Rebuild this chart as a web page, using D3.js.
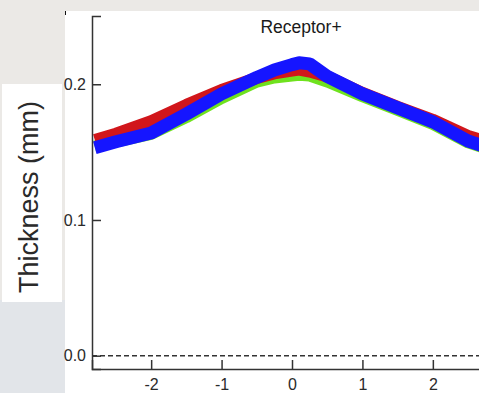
<!DOCTYPE html>
<html>
<head>
<meta charset="utf-8">
<script src="https://cdn.jsdelivr.net/npm/d3@7"></script>
<style>
  html, body { margin: 0; padding: 0; background: #ebe9e6; }
  #chart { width: 479px; height: 393px; }
</style>
</head>
<body>
<div id="chart"></div>
<script>
// positions along the profile (x) and thickness (mm) for each group
const positions = [-2.8, -2.5, -2.0, -1.5, -1.0, -0.5, -0.25, 0, 0.1, 0.25, 0.5, 1.0, 1.5, 2.0, 2.5, 2.8];
const greenVals = [0.1540, 0.1578, 0.1634, 0.1758, 0.1899, 0.2020, 0.2050, 0.2064, 0.2070, 0.2064, 0.2020, 0.1912, 0.1811, 0.1708, 0.1572, 0.1522];
const redVals   = [0.1590, 0.1636, 0.1728, 0.1848, 0.1958, 0.2046, 0.2080, 0.2100, 0.2108, 0.2094, 0.2058, 0.1937, 0.1834, 0.1738, 0.1620, 0.1569];
const blueVals  = [0.1532, 0.1576, 0.1641, 0.1781, 0.1929, 0.2050, 0.2105, 0.2145, 0.2158, 0.2150, 0.2058, 0.1929, 0.1826, 0.1723, 0.1582, 0.1531];
const xTicks = [-2, -1, 0, 1, 2];
const yTicks = [0.0, 0.1, 0.2];

(function() {
  const width = 479;
  const height = 393;
  const font = "'Liberation Sans', Arial, sans-serif";

  const svg = d3.select("#chart")
    .append("svg")
    .attr("width", width)
    .attr("height", height)
    .style("display", "block");

  // blurred slide background
  svg.append("rect").attr("x", 0).attr("y", 0).attr("width", width).attr("height", height).attr("fill", "#ebe9e6");
  svg.append("rect").attr("x", 0).attr("y", 300).attr("width", 65).attr("height", 93).attr("fill", "#e2e5e9");

  // white plot panel
  svg.append("rect").attr("x", 65).attr("y", 11).attr("width", width - 65).attr("height", height - 11).attr("fill", "#ffffff");
  svg.append("line").attr("x1", 65.5).attr("x2", 65.5).attr("y1", 11).attr("y2", 15).attr("stroke", "#111").attr("stroke-width", 1);

  // y label box
  svg.append("rect").attr("x", 2).attr("y", 84).attr("width", 60).attr("height", 218).attr("fill", "#ffffff");
  svg.append("text")
    .attr("transform", "translate(38,197) rotate(-90)")
    .attr("text-anchor", "middle")
    .style("font-family", font)
    .style("font-size", "27px")
    .style("fill", "#2a2a2a")
    .text("Thickness (mm)");

  const x = d3.scaleLinear().domain([-2.84, 2.84]).range([92, 492]);
  const y = d3.scaleLinear().domain([-0.0098, 0.2503]).range([369, 16]);

  // zero reference line
  svg.append("line")
    .attr("x1", 92).attr("x2", width)
    .attr("y1", y(0)).attr("y2", y(0))
    .attr("stroke", "#333").attr("stroke-width", 1.5)
    .attr("stroke-dasharray", "5,3");

  const series = [
    { name: "green", color: "#6fe21e", values: greenVals, w: 12 },
    { name: "red", color: "#d1161b", values: redVals, w: 12 },
    { name: "blue", color: "#1515ff", values: blueVals, w: 13 }
  ];

  const line = d3.line()
    .x(d => x(d[0]))
    .y(d => y(d[1]))
    .curve(d3.curveLinear);

  svg.append("g")
    .selectAll("path")
    .data(series)
    .join("path")
    .attr("d", s => line(positions.map((p, i) => [p, s.values[i]])))
    .attr("fill", "none")
    .attr("stroke", s => s.color)
    .attr("stroke-width", s => s.w)
    .attr("stroke-linejoin", "round");

  const yAxis = svg.append("g")
    .attr("transform", "translate(92,0)")
    .call(d3.axisLeft(y).tickValues(yTicks).tickFormat(d3.format(".1f")).tickSize(-9).tickPadding(6));

  const xAxis = svg.append("g")
    .attr("transform", "translate(0,369)")
    .call(d3.axisBottom(x).tickValues(xTicks).tickFormat(d => String(d)).tickSize(-9).tickPadding(10));

  [yAxis, xAxis].forEach(g => {
    g.attr("font-family", font).attr("font-size", 16);
    g.select(".domain").attr("stroke", "#333").attr("stroke-width", 1.5);
    g.selectAll(".tick line").attr("stroke", "#333").attr("stroke-width", 1.5);
    g.selectAll(".tick text").attr("fill", "#2a2a2a");
  });

  svg.append("text")
    .attr("x", 301)
    .attr("y", 33)
    .attr("text-anchor", "middle")
    .style("font-family", font)
    .style("font-size", "17.5px")
    .style("fill", "#1a1a1a")
    .text("Receptor+");
})();
</script>
</body>
</html>
